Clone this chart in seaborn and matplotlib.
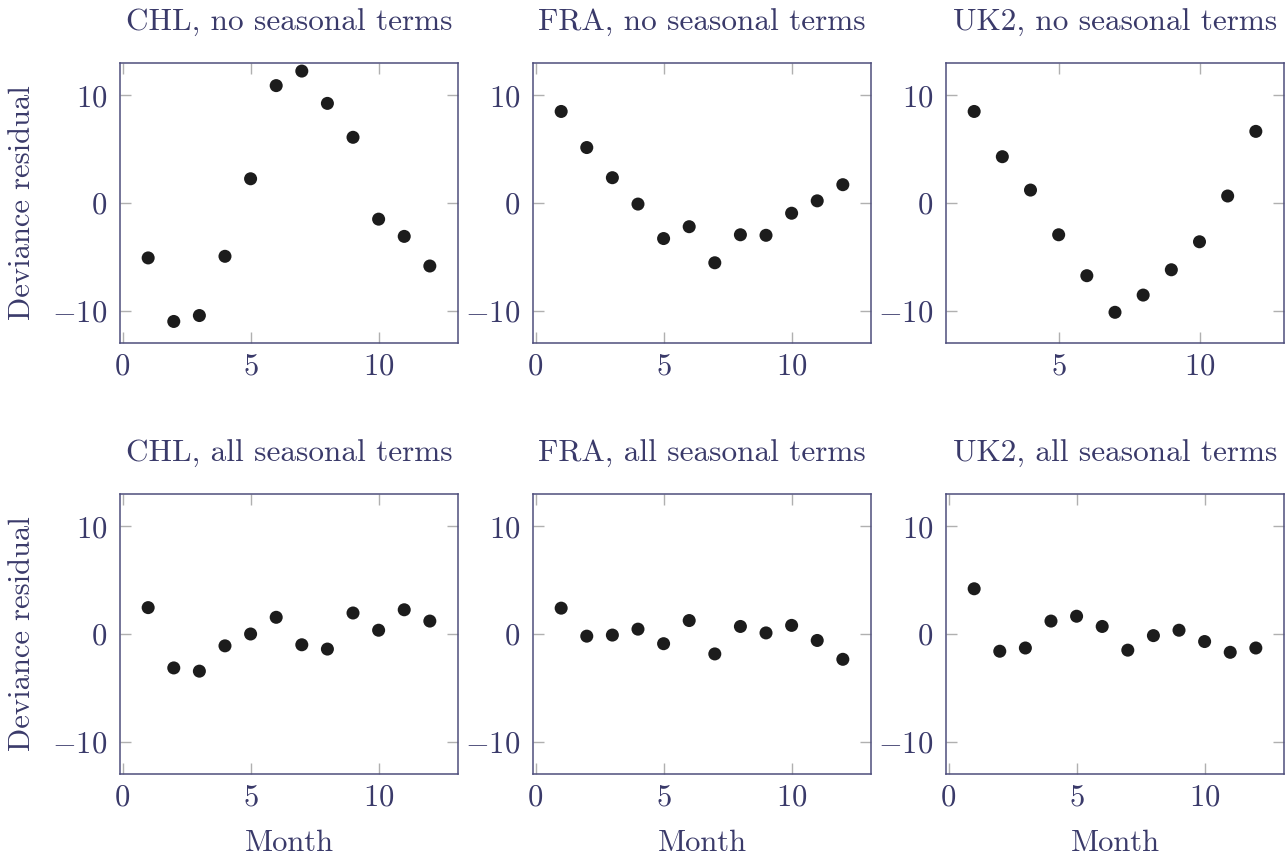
import matplotlib
matplotlib.use("Agg")
import matplotlib.pyplot as plt
import seaborn as sns
import pandas as pd

# ---- data ----
months = [1, 2, 3, 4, 5, 6, 7, 8, 9, 10, 11, 12]
months_uk2_none = [2, 3, 4, 5, 6, 7, 8, 9, 10, 11, 12]

chl_none = [-5.1, -11.0, -10.45, -4.95, 2.25, 10.9, 12.25, 9.25, 6.1, -1.5, -3.1, -5.85]
fra_none = [8.5, 5.15, 2.35, -0.1, -3.3, -2.2, -5.55, -2.95, -3.0, -0.95, 0.2, 1.7]
uk2_none = [8.5, 4.3, 1.2, -2.95, -6.75, -10.15, -8.55, -6.2, -3.6, 0.65, 6.65]

chl_all = [2.45, -3.15, -3.45, -1.1, 0.0, 1.55, -1.0, -1.4, 1.95, 0.35, 2.25, 1.2]
fra_all = [2.4, -0.2, -0.1, 0.45, -0.9, 1.25, -1.85, 0.7, 0.1, 0.8, -0.6, -2.35]
uk2_all = [4.2, -1.6, -1.3, 1.2, 1.65, 0.7, -1.5, -0.15, 0.35, -0.7, -1.7, -1.3]

titles = [
    ["CHL, no seasonal terms", "FRA, no seasonal terms", "UK2, no seasonal terms"],
    ["CHL, all seasonal terms", "FRA, all seasonal terms", "UK2, all seasonal terms"],
]
xs = [[months, months, months_uk2_none], [months, months, months]]
ys = [[chl_none, fra_none, uk2_none], [chl_all, fra_all, uk2_all]]
xticks = [0, 5, 10]
yticks = [-10, 0, 10]
ylabel = "Deviance residual"
xlabel = "Month"

# ---- style ----
sns.set_theme(style="white")
TXT = "#3a3a6a"
FRAME = "#4e4e7c"
TICK = "#b0b0b0"
DOT = "#1c1c1c"
plt.rcParams["font.family"] = ["cmr10", "DejaVu Serif"]
plt.rcParams["mathtext.fontset"] = "cm"
plt.rcParams["axes.formatter.use_mathtext"] = True
plt.rcParams["axes.unicode_minus"] = True

W, H = 1287, 855
fig = plt.figure(figsize=(W / 100, H / 100), dpi=100)
fig.patch.set_facecolor("white")

lefts = [120, 533, 946]
width = 338
tops = [63, 494]
height = 280
FS = 22

for r in range(2):
    for c in range(3):
        ax = fig.add_axes([lefts[c] / W, 1 - (tops[r] + height) / H, width / W, height / H])
        df = pd.DataFrame({"x": xs[r][c], "y": ys[r][c]})
        sns.scatterplot(data=df, x="x", y="y", ax=ax, color=DOT, s=88,
                        edgecolor="none", linewidth=0, zorder=3)
        xmin, xmax = min(xs[r][c]), max(xs[r][c])
        ext = 0.1 * (xmax - xmin)
        ax.set_xlim(xmin - ext, xmax + ext)
        ax.set_ylim(-13, 13)
        ax.set_xticks([t for t in xticks if xmin - ext <= t <= xmax + ext])
        ax.set_yticks(yticks)
        ax.tick_params(axis="both", direction="in", length=8, width=1.0,
                       color=TICK, labelcolor=TXT, labelsize=FS,
                       top=True, right=True, bottom=True, left=True)
        ax.tick_params(axis="x", pad=7)
        ax.tick_params(axis="y", pad=9)
        for sp in ax.spines.values():
            sp.set_color(FRAME)
            sp.set_linewidth(1.1)
            sp.set_visible(True)
        ax.set_title(titles[r][c], fontsize=22.5, color=TXT, pad=23)
        if c == 0:
            ax.set_ylabel(ylabel, fontsize=FS, color=TXT, va="center")
            ax.yaxis.set_label_coords((22 - lefts[0]) / width, 0.5)
        else:
            ax.set_ylabel("")
        if r == 1:
            ax.set_xlabel(xlabel, fontsize=FS, color=TXT, labelpad=13)
        else:
            ax.set_xlabel("")
        ax.grid(False)

fig.savefig("out.png", dpi=100, facecolor="white")
